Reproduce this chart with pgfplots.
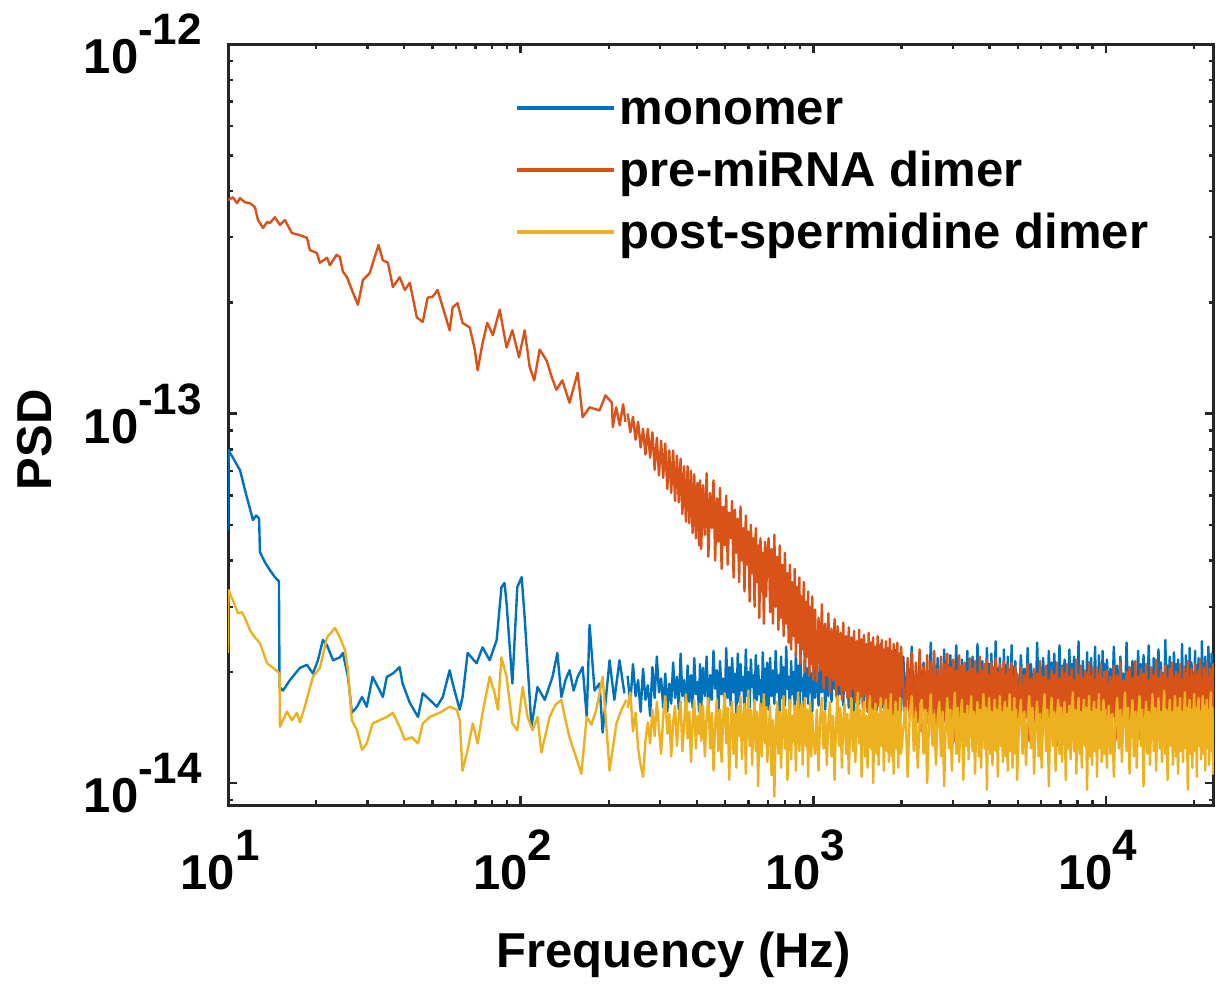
\documentclass[border=0pt]{standalone}
\usepackage{fontspec}
\setmainfont{Liberation Sans}
\usepackage{pgfplots}
\usepackage{pgfplotstable}
\pgfplotsset{compat=1.18}
\definecolor{mono}{HTML}{0072BD}
\definecolor{premi}{HTML}{D95319}
\definecolor{postsp}{HTML}{EDB120}
\definecolor{axgray}{HTML}{262626}
\newcommand{\tl}[1]{10\raisebox{7.2pt}{\fontsize{11}{11}\selectfont #1}}
\newcommand{\bigfont}{\fontsize{12.25}{14}\selectfont\bfseries}

% low-frequency parts, one table per series
\pgfplotstableread{
f m
10.0 4.84e-14
10.05 7.96e-14
10.99 7.03e-14
11.43 6.21e-14
12.17 5.15e-14
12.47 5.30e-14
12.77 5.20e-14
12.86 4.22e-14
13.37 3.96e-14
13.91 3.77e-14
14.46 3.61e-14
14.81 3.54e-14
14.93 3.52e-14
15.00 1.82e-14
15.41 1.78e-14
16.28 1.90e-14
17.61 2.05e-14
18.61 2.09e-14
19.51 1.98e-14
20.29 2.15e-14
21.10 2.44e-14
21.80 2.36e-14
22.85 2.15e-14
24.12 2.19e-14
24.70 2.25e-14
25.70 1.94e-14
26.50 1.55e-14
27.60 1.61e-14
28.70 1.71e-14
29.80 1.61e-14
31.20 1.94e-14
33.00 1.78e-14
33.80 1.71e-14
34.90 1.94e-14
36.60 1.98e-14
38.60 2.06e-14
39.50 1.86e-14
41.80 1.65e-14
44.60 1.51e-14
46.30 1.75e-14
48.90 1.68e-14
51.70 1.61e-14
54.20 1.71e-14
57.20 2.02e-14
58.60 1.86e-14
61.90 1.58e-14
63.30 1.71e-14
65.90 2.25e-14
70.70 2.11e-14
74.10 2.33e-14
78.40 2.15e-14
82.80 2.44e-14
86.00 3.39e-14
88.10 3.48e-14
89.50 3.07e-14
93.70 1.86e-14
97.40 3.39e-14
100.8 3.61e-14
103.2 2.81e-14
108.9 1.42e-14
114.2 1.82e-14
120.9 1.68e-14
128.5 1.94e-14
133.5 2.25e-14
137.8 1.71e-14
142.3 1.90e-14
146.9 2.02e-14
151.7 1.78e-14
156.6 1.94e-14
162.9 2.06e-14
168.2 1.51e-14
172.0 2.68e-14
178.9 1.78e-14
186.0 1.86e-14
190.6 1.37e-14
201.3 2.15e-14
209.0 1.68e-14
217.7 2.15e-14
226.2 1.75e-14
}\monolow

\pgfplotstableread{
f m
10.0 37.8e-14
10.4 38.5e-14
10.73 37.1e-14
10.99 38.3e-14
11.43 37.3e-14
11.89 37.1e-14
12.36 36.2e-14
12.66 33.4e-14
13.17 31.8e-14
13.60 33.0e-14
13.91 32.8e-14
14.46 34.0e-14
15.05 32.4e-14
15.65 33.4e-14
16.53 30.8e-14
17.61 30.4e-14
18.61 29.9e-14
19.05 27.7e-14
20.12 27.2e-14
20.61 25.6e-14
21.80 26.4e-14
22.29 25.2e-14
23.50 26.9e-14
24.12 26.5e-14
24.70 24.2e-14
25.50 23.4e-14
26.70 21.3e-14
27.80 19.7e-14
28.90 23.0e-14
30.50 24.0e-14
31.70 26.5e-14
32.70 28.6e-14
33.80 26.0e-14
35.20 25.6e-14
36.60 22.0e-14
38.60 23.4e-14
40.20 21.6e-14
41.80 22.6e-14
44.20 18.2e-14
46.30 17.7e-14
48.10 20.6e-14
50.00 20.7e-14
52.00 21.6e-14
54.20 19.4e-14
57.20 16.8e-14
58.60 19.4e-14
60.90 19.9e-14
63.30 17.6e-14
67.00 17.1e-14
69.70 14.9e-14
71.30 13.1e-14
74.10 15.5e-14
76.90 17.6e-14
80.40 16.3e-14
84.80 19.1e-14
89.50 15.1e-14
93.70 16.8e-14
98.70 14.2e-14
103.2 16.8e-14
107.3 13.4e-14
111.3 12.3e-14
116.1 14.9e-14
122.8 13.9e-14
127.5 12.6e-14
132.5 11.6e-14
138.8 12.3e-14
146.9 10.7e-14
156.6 12.9e-14
162.9 9.78e-14
172.0 10.4e-14
186.0 10.2e-14
195.0 11.2e-14
204.9 10.7e-14
206.5 9.19e-14
212.0 10.4e-14
218.0 9.3e-14
224.0 10.6e-14
228.0 9.5e-14
}\prelow

\pgfplotstableread{
f m
10.0 2.25e-14
10.03 3.33e-14
10.4 3.12e-14
10.82 2.88e-14
11.16 2.90e-14
11.52 2.76e-14
11.89 2.59e-14
12.36 2.48e-14
12.86 2.39e-14
13.60 2.11e-14
14.27 2.05e-14
14.81 2.00e-14
15.00 1.98e-14
15.05 1.42e-14
15.90 1.56e-14
16.53 1.48e-14
17.20 1.55e-14
17.61 1.46e-14
18.30 1.61e-14
19.51 1.94e-14
20.61 2.05e-14
21.80 2.48e-14
23.20 2.63e-14
24.12 2.48e-14
25.10 2.29e-14
25.70 2.02e-14
26.50 1.48e-14
27.60 1.39e-14
28.70 1.23e-14
29.80 1.28e-14
31.20 1.45e-14
33.00 1.48e-14
34.90 1.51e-14
36.60 1.55e-14
38.60 1.42e-14
40.20 1.31e-14
42.50 1.33e-14
44.60 1.28e-14
46.30 1.45e-14
48.90 1.51e-14
52.90 1.55e-14
57.20 1.61e-14
60.50 1.58e-14
61.90 1.48e-14
63.30 1.08e-14
65.90 1.23e-14
68.60 1.45e-14
71.30 1.28e-14
74.10 1.55e-14
78.40 1.94e-14
81.50 1.75e-14
83.60 1.58e-14
86.00 2.19e-14
89.50 1.94e-14
93.70 1.45e-14
97.40 1.39e-14
101.6 1.82e-14
105.6 1.51e-14
109.8 1.39e-14
114.2 1.51e-14
117.7 1.21e-14
125.6 1.51e-14
131.5 1.63e-14
137.8 1.68e-14
142.3 1.48e-14
146.9 1.33e-14
153.8 1.19e-14
161.2 1.06e-14
168.2 1.51e-14
174.6 1.44e-14
181.3 1.58e-14
190.6 1.94e-14
197.3 1.35e-14
201.3 1.08e-14
212.5 1.45e-14
221.1 1.58e-14
229.9 1.68e-14
}\postlow

% noisy high-frequency part, all three series
\pgfplotstableread{
f mono pre post
232 1.95e-14 10.0e-14 1.60e-14
237 1.64e-14 8.9e-14 1.76e-14
242 2.10e-14 9.8e-14 1.38e-14
247 1.72e-14 8.5e-14 1.55e-14
252 1.90e-14 9.5e-14 1.24e-14
257 1.56e-14 8.1e-14 1.12e-14
262 2.04e-14 9.1e-14 1.04e-14
267 1.68e-14 7.75e-14 1.30e-14
272 1.84e-14 9.1e-14 1.46e-14
277 1.52e-14 7.6e-14 1.28e-14
282 2.06e-14 8.9e-14 1.58e-14
287 1.70e-14 7.05e-14 1.34e-14
292 2.20e-14 8.6e-14 1.66e-14
297 1.76e-14 6.8e-14 1.40e-14
302 1.92e-14 8.45e-14 1.20e-14
307 1.60e-14 6.7e-14 1.52e-14
312 1.98e-14 8.3e-14 1.72e-14
317 1.56e-14 6.25e-14 1.36e-14
322 1.86e-14 7.95e-14 1.54e-14
327 1.64e-14 6.1e-14 1.18e-14
332 2.12e-14 7.95e-14 1.46e-14
337 1.70e-14 5.8e-14 1.62e-14
342 1.94e-14 7.7e-14 1.26e-14
347 1.58e-14 5.75e-14 1.50e-14
352 2.24e-14 7.55e-14 1.66e-14
357 1.72e-14 5.35e-14 1.22e-14
362 1.90e-14 7.2e-14 1.44e-14
367 1.54e-14 5.1e-14 1.74e-14
372 2.08e-14 7.2e-14 1.32e-14
377 1.66e-14 5.05e-14 1.56e-14
382 1.96e-14 7.0e-14 1.14e-14
387 1.60e-14 4.75e-14 1.48e-14
392 2.18e-14 6.85e-14 1.68e-14
397 1.74e-14 4.6e-14 1.24e-14
402 1.88e-14 6.5e-14 1.52e-14
407 1.56e-14 4.4e-14 1.36e-14
410 2.10e-14 6.6e-14 1.64e-14
414 1.60e-14 4.3e-14 1.30e-14
420 2.05e-14 6.4e-14 1.62e-14
426 1.72e-14 4.7e-14 1.18e-14
432 2.20e-14 6.9e-14 1.52e-14
438 1.55e-14 4.1e-14 1.70e-14
444 1.96e-14 6.1e-14 1.24e-14
450 1.68e-14 4.9e-14 1.55e-14
456 2.28e-14 6.6e-14 1.08e-14
462 1.80e-14 4.0e-14 1.46e-14
468 2.02e-14 5.9e-14 1.68e-14
474 1.50e-14 4.5e-14 1.22e-14
480 2.14e-14 6.3e-14 1.58e-14
486 1.74e-14 3.8e-14 1.14e-14
492 1.92e-14 5.6e-14 1.50e-14
498 1.58e-14 4.4e-14 1.75e-14
504 2.32e-14 6.0e-14 1.28e-14
510 1.70e-14 3.9e-14 1.60e-14
516 2.06e-14 5.4e-14 1.02e-14
522 1.62e-14 4.6e-14 1.44e-14
528 2.18e-14 5.8e-14 1.66e-14
534 1.76e-14 3.6e-14 1.20e-14
540 1.98e-14 5.5e-14 1.54e-14
546 1.52e-14 4.2e-14 1.10e-14
552 2.24e-14 5.2e-14 1.62e-14
558 1.66e-14 3.5e-14 1.34e-14
564 2.10e-14 5.6e-14 1.72e-14
570 1.78e-14 4.0e-14 1.16e-14
576 1.94e-14 4.9e-14 1.48e-14
582 1.56e-14 3.3e-14 1.64e-14
588 2.30e-14 5.3e-14 1.06e-14
594 1.72e-14 3.9e-14 1.52e-14
600 2.00e-14 4.8e-14 1.78e-14
606 1.60e-14 3.1e-14 1.26e-14
612 2.16e-14 5.0e-14 1.58e-14
618 1.82e-14 3.7e-14 1.12e-14
624 1.96e-14 4.6e-14 1.46e-14
630 1.54e-14 3.0e-14 1.68e-14
636 2.22e-14 4.9e-14 1.22e-14
642 1.68e-14 3.5e-14 1.56e-14
648 2.08e-14 4.4e-14 0.98e-14
654 1.74e-14 2.8e-14 1.42e-14
660 1.90e-14 4.6e-14 1.64e-14
666 1.50e-14 3.3e-14 1.18e-14
672 2.26e-14 4.2e-14 1.52e-14
678 1.70e-14 2.7e-14 1.74e-14
684 2.04e-14 4.5e-14 1.28e-14
690 1.62e-14 3.2e-14 1.60e-14
696 2.12e-14 4.1e-14 1.14e-14
704 1.58e-14 4.6e-14 1.36e-14
712 2.18e-14 2.9e-14 1.62e-14
720 1.72e-14 4.3e-14 1.05e-14
728 2.02e-14 2.7e-14 1.48e-14
736 1.64e-14 4.7e-14 0.92e-14
744 2.28e-14 3.0e-14 1.40e-14
752 1.76e-14 4.1e-14 1.66e-14
760 1.96e-14 2.6e-14 1.20e-14
768 1.54e-14 4.4e-14 1.56e-14
776 2.20e-14 2.8e-14 1.10e-14
784 1.70e-14 3.9e-14 1.50e-14
792 2.06e-14 2.5e-14 1.72e-14
800 1.62e-14 4.2e-14 1.24e-14
808 2.34e-14 2.7e-14 1.58e-14
816 1.80e-14 3.7e-14 1.02e-14
824 1.94e-14 2.4e-14 1.46e-14
832 1.56e-14 3.9e-14 1.68e-14
840 2.14e-14 2.3e-14 1.16e-14
848 1.74e-14 3.5e-14 1.52e-14
856 2.00e-14 2.5e-14 1.30e-14
864 1.60e-14 3.8e-14 1.62e-14
872 2.26e-14 2.2e-14 1.08e-14
880 1.68e-14 3.4e-14 1.54e-14
888 2.08e-14 2.4e-14 1.76e-14
896 1.52e-14 3.6e-14 1.22e-14
904 2.16e-14 2.1e-14 1.50e-14
912 1.78e-14 3.2e-14 1.64e-14
920 1.92e-14 2.3e-14 1.12e-14
928 1.58e-14 3.5e-14 1.48e-14
936 2.30e-14 2.0e-14 1.70e-14
944 1.72e-14 3.1e-14 1.26e-14
952 2.04e-14 2.2e-14 1.58e-14
960 1.64e-14 3.3e-14 1.04e-14
968 2.12e-14 1.95e-14 1.44e-14
976 1.76e-14 3.0e-14 1.66e-14
984 1.98e-14 2.1e-14 1.18e-14
992 1.56e-14 3.2e-14 1.54e-14
1000 2.22e-14 1.9e-14 1.32e-14
1014 1.70e-14 2.95e-14 1.20e-14
1028 2.16e-14 1.88e-14 1.58e-14
1042 1.62e-14 2.80e-14 1.08e-14
1056 2.04e-14 2.02e-14 1.50e-14
1070 1.76e-14 3.05e-14 1.70e-14
1084 2.28e-14 1.80e-14 1.24e-14
1098 1.58e-14 2.70e-14 1.56e-14
1112 1.96e-14 1.95e-14 1.12e-14
1126 1.72e-14 2.88e-14 1.46e-14
1140 2.36e-14 1.76e-14 1.66e-14
1154 1.66e-14 2.62e-14 1.18e-14
1168 2.10e-14 1.90e-14 1.52e-14
1182 1.80e-14 2.78e-14 1.02e-14
1196 1.98e-14 1.72e-14 1.44e-14
1210 1.54e-14 2.66e-14 1.72e-14
1224 2.22e-14 1.84e-14 1.26e-14
1238 1.74e-14 2.55e-14 1.60e-14
1252 2.06e-14 1.68e-14 1.10e-14
1266 1.62e-14 2.72e-14 1.48e-14
1280 2.30e-14 1.78e-14 1.64e-14
1294 1.78e-14 2.50e-14 1.20e-14
1308 1.94e-14 1.70e-14 1.54e-14
1322 1.60e-14 2.64e-14 1.06e-14
1336 2.18e-14 1.62e-14 1.42e-14
1350 1.70e-14 2.48e-14 1.70e-14
1364 2.02e-14 1.80e-14 1.22e-14
1378 1.56e-14 2.58e-14 1.56e-14
1392 2.40e-14 1.66e-14 1.14e-14
1406 1.76e-14 2.42e-14 1.50e-14
1420 2.08e-14 1.58e-14 1.76e-14
1434 1.64e-14 2.60e-14 1.28e-14
1448 1.96e-14 1.72e-14 1.58e-14
1462 1.72e-14 2.45e-14 1.04e-14
1476 2.24e-14 1.60e-14 1.46e-14
1490 1.58e-14 2.52e-14 1.66e-14
1504 2.12e-14 1.74e-14 1.18e-14
1518 1.80e-14 2.38e-14 1.52e-14
1532 1.98e-14 1.56e-14 1.10e-14
1546 1.62e-14 2.55e-14 1.44e-14
1560 2.32e-14 1.68e-14 1.72e-14
1574 1.70e-14 2.40e-14 1.24e-14
1588 2.04e-14 1.54e-14 1.58e-14
1602 1.56e-14 2.48e-14 1.00e-14
1616 2.20e-14 1.66e-14 1.48e-14
1630 1.76e-14 2.34e-14 1.64e-14
1644 1.94e-14 1.52e-14 1.20e-14
1658 1.64e-14 2.50e-14 1.54e-14
1672 2.14e-14 1.62e-14 1.12e-14
1686 1.72e-14 2.36e-14 1.46e-14
1700 2.38e-14 1.50e-14 1.70e-14
1714 1.60e-14 2.44e-14 1.26e-14
1728 2.00e-14 1.64e-14 1.56e-14
1742 1.78e-14 2.30e-14 1.08e-14
1756 2.10e-14 1.48e-14 1.50e-14
1770 1.54e-14 2.42e-14 1.68e-14
1784 2.26e-14 1.60e-14 1.22e-14
1798 1.74e-14 2.32e-14 1.58e-14
1812 1.96e-14 1.46e-14 1.14e-14
1826 1.66e-14 2.46e-14 1.44e-14
1840 2.18e-14 1.58e-14 1.74e-14
1854 1.80e-14 2.28e-14 1.18e-14
1868 2.02e-14 1.44e-14 1.52e-14
1882 1.58e-14 2.38e-14 1.06e-14
1896 2.30e-14 1.56e-14 1.48e-14
1910 1.70e-14 2.26e-14 1.66e-14
1924 2.06e-14 1.42e-14 1.24e-14
1938 1.62e-14 2.40e-14 1.56e-14
1952 2.16e-14 1.54e-14 1.10e-14
1966 1.76e-14 2.24e-14 1.46e-14
1980 1.98e-14 1.40e-14 1.70e-14
1994 1.56e-14 2.34e-14 1.20e-14
2030 2.20e-14 1.85e-14 1.40e-14
2065 1.66e-14 1.42e-14 1.60e-14
2100 2.08e-14 2.18e-14 1.04e-14
2135 1.78e-14 1.50e-14 1.52e-14
2170 2.34e-14 2.26e-14 1.72e-14
2205 1.60e-14 1.36e-14 1.22e-14
2240 1.98e-14 2.12e-14 1.56e-14
2275 1.74e-14 1.46e-14 1.10e-14
2310 2.26e-14 2.30e-14 1.48e-14
2345 1.56e-14 1.38e-14 1.68e-14
2380 2.12e-14 2.08e-14 1.20e-14
2415 1.82e-14 1.52e-14 1.58e-14
2450 2.02e-14 2.22e-14 1.00e-14
2485 1.64e-14 1.34e-14 1.46e-14
2520 2.40e-14 2.14e-14 1.74e-14
2555 1.72e-14 1.48e-14 1.26e-14
2590 2.06e-14 2.28e-14 1.54e-14
2625 1.58e-14 1.40e-14 1.12e-14
2660 2.18e-14 2.04e-14 1.50e-14
2695 1.80e-14 1.54e-14 1.66e-14
2730 1.96e-14 2.20e-14 1.18e-14
2765 1.62e-14 1.32e-14 1.56e-14
2800 2.30e-14 2.10e-14 0.98e-14
2835 1.76e-14 1.46e-14 1.44e-14
2870 2.10e-14 2.24e-14 1.70e-14
2905 1.54e-14 1.36e-14 1.24e-14
2940 2.22e-14 2.06e-14 1.58e-14
2975 1.70e-14 1.50e-14 1.08e-14
3010 2.00e-14 2.16e-14 1.52e-14
3045 1.84e-14 1.30e-14 1.76e-14
3080 2.36e-14 2.02e-14 1.20e-14
3115 1.66e-14 1.44e-14 1.60e-14
3150 2.04e-14 2.22e-14 1.14e-14
3185 1.58e-14 1.38e-14 1.48e-14
3220 2.16e-14 2.08e-14 1.68e-14
3255 1.78e-14 1.52e-14 1.02e-14
3290 1.98e-14 2.12e-14 1.54e-14
3325 1.62e-14 1.34e-14 1.26e-14
3360 2.28e-14 2.00e-14 1.62e-14
3395 1.74e-14 1.46e-14 1.16e-14
3430 2.08e-14 2.18e-14 1.50e-14
3465 1.56e-14 1.40e-14 1.72e-14
3500 2.20e-14 2.04e-14 1.22e-14
3535 1.82e-14 1.28e-14 1.56e-14
3570 2.02e-14 2.14e-14 1.06e-14
3605 1.68e-14 1.48e-14 1.46e-14
3640 2.38e-14 1.98e-14 1.66e-14
3675 1.72e-14 1.36e-14 1.18e-14
3710 2.06e-14 2.20e-14 1.58e-14
3745 1.60e-14 1.50e-14 1.10e-14
3780 2.14e-14 2.02e-14 1.52e-14
3815 1.80e-14 1.32e-14 1.74e-14
3850 1.96e-14 2.10e-14 1.24e-14
3885 1.64e-14 1.44e-14 1.60e-14
3920 2.32e-14 2.16e-14 0.96e-14
3955 1.76e-14 1.38e-14 1.48e-14
3990 2.10e-14 1.96e-14 1.70e-14
4025 1.58e-14 1.52e-14 1.20e-14
4060 2.24e-14 2.12e-14 1.56e-14
4095 1.70e-14 1.30e-14 1.12e-14
4130 2.00e-14 2.06e-14 1.50e-14
4165 1.84e-14 1.46e-14 1.68e-14
4200 2.42e-14 2.18e-14 1.22e-14
4235 1.66e-14 1.36e-14 1.58e-14
4270 2.04e-14 1.98e-14 1.04e-14
4305 1.60e-14 1.50e-14 1.46e-14
4340 2.18e-14 2.10e-14 1.72e-14
4375 1.78e-14 1.34e-14 1.26e-14
4410 1.98e-14 2.04e-14 1.56e-14
4445 1.62e-14 1.48e-14 1.14e-14
4480 2.30e-14 2.14e-14 1.52e-14
4515 1.74e-14 1.28e-14 1.66e-14
4550 2.08e-14 1.96e-14 1.18e-14
4585 1.56e-14 1.42e-14 1.60e-14
4620 2.20e-14 2.08e-14 1.08e-14
4655 1.82e-14 1.52e-14 1.48e-14
4690 2.02e-14 2.00e-14 1.74e-14
4725 1.68e-14 1.32e-14 1.22e-14
4760 2.36e-14 2.12e-14 1.56e-14
4795 1.72e-14 1.44e-14 1.10e-14
4830 2.06e-14 1.94e-14 1.50e-14
4865 1.60e-14 1.38e-14 1.70e-14
4900 2.14e-14 2.06e-14 1.20e-14
4935 1.80e-14 1.50e-14 1.58e-14
4970 1.96e-14 1.98e-14 1.02e-14
5050 1.64e-14 1.44e-14 1.48e-14
5120 2.22e-14 2.06e-14 1.68e-14
5190 1.76e-14 1.34e-14 1.20e-14
5260 2.04e-14 1.96e-14 1.56e-14
5330 1.58e-14 1.50e-14 1.12e-14
5400 2.32e-14 2.10e-14 1.50e-14
5470 1.72e-14 1.30e-14 1.72e-14
5540 2.10e-14 1.92e-14 1.24e-14
5610 1.82e-14 1.46e-14 1.60e-14
5680 1.98e-14 2.04e-14 1.06e-14
5750 1.62e-14 1.38e-14 1.46e-14
5820 2.40e-14 1.98e-14 1.66e-14
5890 1.70e-14 1.52e-14 1.18e-14
5960 2.06e-14 2.14e-14 1.54e-14
6030 1.56e-14 1.28e-14 1.10e-14
6100 2.18e-14 1.94e-14 1.52e-14
6170 1.80e-14 1.44e-14 1.74e-14
6240 2.00e-14 2.08e-14 1.22e-14
6310 1.66e-14 1.36e-14 1.58e-14
6380 2.28e-14 1.90e-14 0.98e-14
6450 1.74e-14 1.50e-14 1.46e-14
6520 2.12e-14 2.02e-14 1.70e-14
6590 1.60e-14 1.32e-14 1.26e-14
6660 2.24e-14 1.96e-14 1.56e-14
6730 1.78e-14 1.46e-14 1.08e-14
6800 1.96e-14 2.12e-14 1.50e-14
6870 1.84e-14 1.26e-14 1.68e-14
6940 2.36e-14 1.92e-14 1.20e-14
7010 1.68e-14 1.48e-14 1.60e-14
7080 2.08e-14 2.06e-14 1.14e-14
7150 1.58e-14 1.40e-14 1.48e-14
7220 2.16e-14 1.98e-14 1.66e-14
7290 1.76e-14 1.30e-14 1.02e-14
7360 2.02e-14 2.10e-14 1.54e-14
7430 1.62e-14 1.52e-14 1.24e-14
7500 2.30e-14 1.94e-14 1.62e-14
7570 1.72e-14 1.36e-14 1.16e-14
7640 2.10e-14 2.04e-14 1.52e-14
7710 1.56e-14 1.44e-14 1.76e-14
7780 2.20e-14 1.90e-14 1.22e-14
7850 1.82e-14 1.28e-14 1.58e-14
7920 1.98e-14 2.16e-14 1.06e-14
7990 1.66e-14 1.50e-14 1.46e-14
8060 2.42e-14 1.96e-14 1.70e-14
8130 1.74e-14 1.34e-14 1.20e-14
8200 2.06e-14 2.08e-14 1.56e-14
8270 1.60e-14 1.46e-14 1.10e-14
8340 2.14e-14 1.92e-14 1.50e-14
8410 1.80e-14 1.30e-14 1.68e-14
8480 2.00e-14 2.02e-14 1.26e-14
8550 1.64e-14 1.48e-14 1.60e-14
8620 2.26e-14 1.98e-14 0.96e-14
8690 1.76e-14 1.38e-14 1.44e-14
8760 2.12e-14 2.12e-14 1.72e-14
8830 1.58e-14 1.52e-14 1.18e-14
8900 2.18e-14 1.94e-14 1.56e-14
8970 1.70e-14 1.32e-14 1.12e-14
9040 1.98e-14 2.06e-14 1.52e-14
9110 1.84e-14 1.44e-14 1.66e-14
9180 2.34e-14 1.90e-14 1.22e-14
9250 1.66e-14 1.36e-14 1.58e-14
9320 2.04e-14 2.04e-14 1.04e-14
9390 1.62e-14 1.50e-14 1.48e-14
9460 2.22e-14 1.96e-14 1.74e-14
9530 1.78e-14 1.28e-14 1.24e-14
9600 1.96e-14 2.10e-14 1.56e-14
9670 1.60e-14 1.46e-14 1.14e-14
9740 2.28e-14 1.92e-14 1.50e-14
9810 1.72e-14 1.34e-14 1.68e-14
9880 2.10e-14 2.00e-14 1.20e-14
9950 1.56e-14 1.48e-14 1.58e-14
10080 2.16e-14 2.02e-14 1.10e-14
10220 1.74e-14 1.36e-14 1.62e-14
10360 2.04e-14 1.94e-14 1.20e-14
10500 1.62e-14 1.50e-14 1.54e-14
10640 2.34e-14 2.08e-14 1.04e-14
10780 1.78e-14 1.30e-14 1.48e-14
10920 2.08e-14 1.96e-14 1.70e-14
11060 1.58e-14 1.46e-14 1.24e-14
11200 2.20e-14 2.12e-14 1.58e-14
11340 1.82e-14 1.34e-14 1.14e-14
11480 1.98e-14 1.90e-14 1.52e-14
11620 1.66e-14 1.52e-14 1.76e-14
11760 2.40e-14 2.00e-14 1.22e-14
11900 1.70e-14 1.28e-14 1.60e-14
12040 2.06e-14 2.06e-14 1.06e-14
12180 1.60e-14 1.44e-14 1.46e-14
12320 2.14e-14 1.92e-14 1.68e-14
12460 1.84e-14 1.38e-14 1.18e-14
12600 2.00e-14 2.14e-14 1.56e-14
12740 1.64e-14 1.50e-14 1.10e-14
12880 2.28e-14 1.94e-14 1.50e-14
13020 1.76e-14 1.32e-14 1.72e-14
13160 2.10e-14 2.04e-14 1.26e-14
13300 1.56e-14 1.48e-14 1.58e-14
13440 2.22e-14 1.98e-14 0.98e-14
13580 1.80e-14 1.36e-14 1.44e-14
13720 1.96e-14 2.10e-14 1.66e-14
13860 1.68e-14 1.46e-14 1.20e-14
14000 2.36e-14 1.90e-14 1.56e-14
14140 1.72e-14 1.30e-14 1.12e-14
14280 2.04e-14 2.06e-14 1.50e-14
14420 1.62e-14 1.52e-14 1.74e-14
14560 2.18e-14 1.96e-14 1.22e-14
14700 1.78e-14 1.40e-14 1.60e-14
14840 2.02e-14 2.16e-14 1.08e-14
14980 1.58e-14 1.34e-14 1.48e-14
15120 2.30e-14 1.92e-14 1.70e-14
15260 1.74e-14 1.48e-14 1.24e-14
15400 2.12e-14 2.02e-14 1.56e-14
15540 1.84e-14 1.28e-14 1.14e-14
15680 1.98e-14 1.96e-14 1.52e-14
15820 1.64e-14 1.44e-14 1.78e-14
15960 2.44e-14 2.08e-14 1.20e-14
16100 1.70e-14 1.36e-14 1.58e-14
16240 2.08e-14 1.92e-14 1.02e-14
16380 1.60e-14 1.50e-14 1.46e-14
16520 2.20e-14 2.04e-14 1.68e-14
16660 1.80e-14 1.32e-14 1.26e-14
16800 2.00e-14 2.12e-14 1.56e-14
16940 1.66e-14 1.46e-14 1.12e-14
17080 2.26e-14 1.94e-14 1.50e-14
17220 1.76e-14 1.38e-14 1.72e-14
17360 2.10e-14 2.00e-14 1.18e-14
17500 1.56e-14 1.52e-14 1.60e-14
17640 2.16e-14 1.96e-14 1.06e-14
17780 1.82e-14 1.30e-14 1.48e-14
17920 1.96e-14 2.10e-14 1.70e-14
18060 1.68e-14 1.44e-14 1.22e-14
18200 2.38e-14 1.90e-14 1.56e-14
18340 1.72e-14 1.34e-14 1.14e-14
18480 2.06e-14 2.06e-14 1.52e-14
18620 1.62e-14 1.50e-14 1.76e-14
18760 2.22e-14 1.98e-14 1.24e-14
18900 1.78e-14 1.28e-14 1.60e-14
19040 2.02e-14 2.14e-14 0.96e-14
19180 1.58e-14 1.46e-14 1.46e-14
19320 2.32e-14 1.92e-14 1.68e-14
19460 1.74e-14 1.36e-14 1.20e-14
19600 2.12e-14 2.04e-14 1.58e-14
19740 1.86e-14 1.52e-14 1.10e-14
19880 1.98e-14 1.94e-14 1.52e-14
20020 1.64e-14 1.32e-14 1.74e-14
20160 2.28e-14 2.10e-14 1.22e-14
20300 1.70e-14 1.48e-14 1.60e-14
20440 2.08e-14 1.96e-14 1.04e-14
20580 1.60e-14 1.40e-14 1.48e-14
20720 2.18e-14 2.02e-14 1.70e-14
20860 1.80e-14 1.30e-14 1.26e-14
21000 2.00e-14 2.16e-14 1.56e-14
21140 1.66e-14 1.50e-14 1.16e-14
21280 2.42e-14 1.92e-14 1.52e-14
21420 1.76e-14 1.36e-14 1.72e-14
21560 2.10e-14 2.06e-14 1.20e-14
21700 1.58e-14 1.46e-14 1.62e-14
21840 2.20e-14 1.98e-14 1.08e-14
21980 1.82e-14 1.34e-14 1.50e-14
22120 1.98e-14 2.12e-14 1.68e-14
22260 1.68e-14 1.52e-14 1.24e-14
22400 2.34e-14 1.94e-14 1.58e-14
22540 1.74e-14 1.30e-14 1.12e-14
22680 2.06e-14 2.04e-14 1.52e-14
22820 1.62e-14 1.44e-14 1.76e-14
22960 2.24e-14 1.96e-14 1.22e-14
23100 1.78e-14 1.38e-14 1.60e-14
23240 2.04e-14 2.10e-14 1.06e-14
23380 1.60e-14 1.48e-14 1.50e-14
}\bandtab

\begin{document}
\begin{tikzpicture}
\useasboundingbox (-57pt,-44.75pt) rectangle (247pt,201.25pt);
\begin{axis}[
  at={(0,0)}, anchor=south west,
  scale only axis, width=246.5pt, height=190.25pt,
  xmode=log, ymode=log,
  xmin=10, xmax=23400, ymin=8.72e-15, ymax=1e-12,
  xtick={10,100,1000,10000}, xticklabels={\tl{1},\tl{2},\tl{3},\tl{4}},
  ytick={1e-14,1e-13,1e-12}, yticklabels={\tl{-14},\tl{-13},\tl{-12}},
  minor xtick={20,30,40,50,60,70,80,90,200,300,400,500,600,700,800,900,2000,3000,4000,5000,6000,7000,8000,9000,20000},
  minor ytick={9e-15,2e-14,3e-14,4e-14,5e-14,6e-14,7e-14,8e-14,9e-14,2e-13,3e-13,4e-13,5e-13,6e-13,7e-13,8e-13,9e-13},
  tick align=inside, tick pos=both,
  major tick length=2.25pt, minor tick length=1.25pt,
  axis line style={axgray, line width=0.75pt},
  every tick/.style={axgray, line width=0.6pt},
  tick label style={font=\bigfont, text=black},
  xticklabel style={yshift=-2.75pt, xshift=-2pt},
  yticklabel style={xshift=-3pt},
  xlabel={Frequency (Hz)}, ylabel={PSD},
  every axis x label/.style={at={(axis description cs:0.452,-0.197)}, anchor=center, font=\bigfont},
  every axis y label/.style={at={(axis description cs:-0.196,0.48)}, anchor=center, rotate=90, font=\bigfont},
  legend style={draw=none, fill=none, at={(axis description cs:0.291,0.949)}, anchor=north west,
    inner sep=0pt, outer sep=0pt, row sep=3pt, column sep=1pt, font=\bigfont,
    nodes={inner sep=0pt, text height=10.5pt, text depth=2pt}},
  legend cell align=left,
  legend image code/.code={\draw[#1, line width=1pt] (0pt,0pt) -- (24.25pt,0pt);},
  every axis plot/.append style={line width=0.6pt, line join=round, mark=none},
]
\addplot[color=mono] table[x=f, y=m] {\monolow};
\addlegendentry{monomer}
\addplot[color=mono, forget plot] table[x=f, y=mono] {\bandtab};
\addplot[color=premi] table[x=f, y=m] {\prelow};
\addlegendentry{pre-miRNA dimer}
\addplot[color=premi, forget plot] table[x=f, y=pre] {\bandtab};
\addplot[color=postsp] table[x=f, y=m] {\postlow};
\addlegendentry{post-spermidine dimer}
\addplot[color=postsp, forget plot] table[x=f, y=post] {\bandtab};
\end{axis}
\end{tikzpicture}
\end{document}
